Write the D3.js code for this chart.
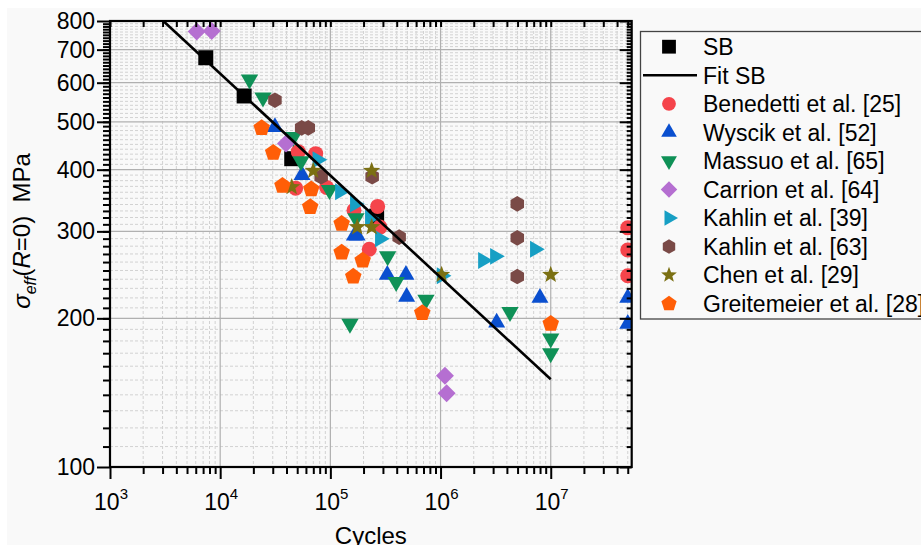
<!DOCTYPE html>
<html>
<head>
<meta charset="utf-8">
<script src="https://cdn.jsdelivr.net/npm/d3@7/dist/d3.min.js"></script>
<style>
  body { margin: 0; background: #fff; }
  text { font-family: Arial, "Liberation Sans", sans-serif; fill: #000; }
</style>
</head>
<body>
<div id="chart"></div>
<script>
const width = 921;
const height = 545;

// axis ticks
const xTicks = [1e3, 1e4, 1e5, 1e6, 1e7];
const xTickExp = ["3", "4", "5", "6", "7"];
const yTicks = [100, 200, 300, 400, 500, 600, 700, 800];

// data: [cycles, stress MPa]
const sbPoints = [[7400, 674], [16500, 564], [44600, 421], [263000, 322]];
const fitSB = [[3045, 800], [1e7, 150.5]];
const benedetti = [[51100, 435], [73600, 431], [48400, 367], [92500, 368], [268700, 337],
  [281800, 306], [225400, 276], [163800, 331], [5e7, 305], [5e7, 275], [5e7, 244]];
const wyscik = [[31400, 488], [55300, 390], [165000, 294], [175000, 294], [328400, 245],
  [485300, 245], [492500, 221], [3.23e6, 196], [7.98e6, 220], [5e7, 220], [5e7, 195]];
const massuo = [[18450, 609], [24460, 560], [46060, 466], [54100, 416], [98100, 364],
  [170700, 319], [331100, 267], [395400, 237], [150600, 195], [737100, 218], [4.27e6, 206],
  [1e7, 182], [1e7, 170]];
const carrion = [[6120, 762], [8375, 764], [39550, 452], [1.096e6, 153], [1.136e6, 141]];
const kahlin39 = [[76400, 419], [122300, 361], [167200, 341], [228800, 319], [281800, 290],
  [1.023e6, 244], [2.43e6, 262], [3.12e6, 267], [7.19e6, 276]];
const kahlin63 = [[31400, 553], [54900, 486], [63000, 486], [82500, 387], [239500, 387],
  [421000, 292], [4.97e6, 341], [4.97e6, 291], [4.97e6, 243]];
const chen = [[44600, 369], [69900, 398], [237100, 398], [175400, 306], [237100, 306],
  [1.023e6, 245], [1e7, 245]];
const greitemeier = [[23800, 486], [30300, 433], [36750, 371], [67100, 365], [65600, 336],
  [126600, 311], [126600, 272], [196400, 262], [161400, 243], [682300, 205], [1e7, 195]];

const legendLabels = ["SB", "Fit SB", "Benedetti et al. [25]", "Wyscik et al. [52]",
  "Massuo et al. [65]", "Carrion et al. [64]", "Kahlin et al. [39]", "Kahlin et al. [63]",
  "Chen et al. [29]", "Greitemeier et al. [28]"];

// marker shapes
function polygon(n, r, rot) {
  const pts = d3.range(n).map(i => {
    const a = rot + 2 * Math.PI * i / n;
    return [r * Math.cos(a), r * Math.sin(a)];
  });
  return "M" + pts.map(p => p.join(",")).join("L") + "Z";
}
function star(ro, ri) {
  const pts = d3.range(10).map(i => {
    const a = -Math.PI / 2 + Math.PI * i / 5;
    const r = i % 2 ? ri : ro;
    return [r * Math.cos(a), r * Math.sin(a)];
  });
  return "M" + pts.map(p => p.join(",")).join("L") + "Z";
}

const shapes = {
  square: "M-7.5,-7.5H7.5V7.5H-7.5Z",
  circle: d3.symbol(d3.symbolCircle, Math.PI * 7.5 * 7.5)(),
  up: polygon(3, 9.8, -Math.PI / 2),
  down: polygon(3, 10, Math.PI / 2),
  diamond: polygon(4, 9, -Math.PI / 2),
  right: polygon(3, 9.8, 0),
  hexagon: polygon(6, 7.8, -Math.PI / 2),
  star: star(9, 3.8),
  pentagon: polygon(5, 8.7, -Math.PI / 2)
};

const series = [
  { name: legendLabels[0], data: sbPoints, color: "#000000", shape: "square" },
  { name: legendLabels[2], data: benedetti, color: "#f5444b", shape: "circle" },
  { name: legendLabels[3], data: wyscik, color: "#0a4fcf", shape: "up" },
  { name: legendLabels[4], data: massuo, color: "#0f9157", shape: "down" },
  { name: legendLabels[5], data: carrion, color: "#b56fd1", shape: "diamond" },
  { name: legendLabels[6], data: kahlin39, color: "#179fc4", shape: "right" },
  { name: legendLabels[7], data: kahlin63, color: "#7a4a47", shape: "hexagon" },
  { name: legendLabels[8], data: chen, color: "#7b7013", shape: "star" },
  { name: legendLabels[9], data: greitemeier, color: "#ff5e07", shape: "pentagon" }
];

const plot = { left: 110, right: 631.7, top: 21, bottom: 467 };

const x = d3.scaleLog().domain([1e3, 5.43e7]).range([plot.left, plot.right]);
const y = d3.scaleLog().domain([100, 800]).range([plot.bottom, plot.top]);

const svg = d3.select("#chart")
  .append("svg")
  .attr("width", width)
  .attr("height", height);

svg.append("rect").attr("x", 7).attr("y", 8).attr("width", width).attr("height", height)
  .attr("fill", "#f9f9f9");

// grid
const xMinor = x.ticks().filter(t => !xTicks.includes(t));
const yMinor = d3.range(110, 800, 10).filter(v => v % 100 !== 0);

const grid = svg.append("g");
grid.selectAll(".xminor").data(xMinor).join("line")
  .attr("x1", d => x(d)).attr("x2", d => x(d))
  .attr("y1", plot.top).attr("y2", plot.bottom)
  .attr("stroke", "#d2d2d2").attr("stroke-dasharray", "3,2");
grid.selectAll(".yminor").data(yMinor).join("line")
  .attr("x1", plot.left).attr("x2", plot.right)
  .attr("y1", d => y(d)).attr("y2", d => y(d))
  .attr("stroke", "#d2d2d2").attr("stroke-dasharray", "3,2");
grid.selectAll(".xmajor").data(xTicks.slice(1)).join("line")
  .attr("x1", d => x(d)).attr("x2", d => x(d))
  .attr("y1", plot.top).attr("y2", plot.bottom)
  .attr("stroke", "#b0b0b0").attr("stroke-width", 1.2);
grid.selectAll(".ymajor").data(yTicks.slice(1, -1)).join("line")
  .attr("x1", plot.left).attr("x2", plot.right)
  .attr("y1", d => y(d)).attr("y2", d => y(d))
  .attr("stroke", "#b0b0b0").attr("stroke-width", 1.2);

// markers
svg.append("clipPath").attr("id", "clip")
  .append("rect")
  .attr("x", plot.left).attr("y", 0)
  .attr("width", plot.right - plot.left).attr("height", plot.bottom);

const marks = svg.append("g").attr("clip-path", "url(#clip)");
series.forEach(s => {
  marks.append("g").selectAll("path").data(s.data).join("path")
    .attr("d", shapes[s.shape])
    .attr("fill", s.color)
    .attr("transform", d => `translate(${x(d[0])},${y(d[1])})`);
});

// fit line
svg.append("path")
  .datum(fitSB)
  .attr("d", d3.line().x(d => x(d[0])).y(d => y(d[1])))
  .attr("fill", "none")
  .attr("stroke", "#000")
  .attr("stroke-width", 2.6);

// axes
function styleAxis(g) {
  g.select(".domain").remove();
  g.selectAll(".tick line").attr("stroke", "#000").attr("stroke-width", 2);
}
const yMinorTicks = d3.range(110, 800, 10);

svg.append("g").attr("transform", `translate(${plot.left},0)`)
  .call(d3.axisLeft(y).tickValues(yMinorTicks).tickSize(7).tickFormat(""))
  .call(styleAxis);
svg.append("g").attr("transform", `translate(${plot.left},0)`)
  .call(d3.axisLeft(y).tickValues(yTicks).tickSize(13).tickPadding(2).tickFormat(d3.format("d")))
  .call(styleAxis)
  .call(g => g.selectAll(".tick text").attr("font-size", 23)
    .attr("font-family", "Arial, 'Liberation Sans', sans-serif").attr("fill", "#000"));
svg.append("g").attr("transform", `translate(${plot.right},0)`)
  .call(d3.axisLeft(y).tickValues(yMinorTicks).tickSize(5).tickFormat(""))
  .call(styleAxis);
svg.append("g").attr("transform", `translate(${plot.right},0)`)
  .call(d3.axisLeft(y).tickValues(yTicks).tickSize(12).tickFormat(""))
  .call(styleAxis);

svg.append("g").attr("transform", `translate(0,${plot.bottom})`)
  .call(d3.axisBottom(x).tickValues(xMinor).tickSize(7).tickFormat(""))
  .call(styleAxis);
svg.append("g").attr("transform", `translate(0,${plot.bottom})`)
  .call(d3.axisBottom(x).tickValues(xTicks).tickSize(12).tickFormat(""))
  .call(styleAxis);
svg.append("g").attr("transform", `translate(0,${plot.top})`)
  .call(d3.axisBottom(x).tickValues(xMinor.concat(xTicks)).tickSize(6).tickFormat(""))
  .call(styleAxis);

// frame
svg.append("rect")
  .attr("x", plot.left).attr("y", plot.top)
  .attr("width", plot.right - plot.left).attr("height", plot.bottom - plot.top)
  .attr("fill", "none").attr("stroke", "#000").attr("stroke-width", 2.2);

// x tick labels 10^n
const xl = svg.append("g").selectAll("text").data(xTicks).join("text")
  .attr("x", d => x(d) + 1)
  .attr("y", 510)
  .attr("text-anchor", "middle")
  .attr("font-size", 23);
xl.append("tspan").text("10");
xl.append("tspan").attr("font-size", 15).attr("dy", -11).text((d, i) => xTickExp[i]);

// axis titles
svg.append("text")
  .attr("x", (plot.left + plot.right) / 2)
  .attr("y", 544)
  .attr("text-anchor", "middle")
  .attr("font-size", 24)
  .text("Cycles");

const yt = svg.append("text")
  .attr("transform", "translate(30,231) rotate(-90)")
  .attr("text-anchor", "middle")
  .attr("font-size", 24)
  .attr("xml:space", "preserve");
yt.append("tspan").attr("font-style", "italic").text("σ");
yt.append("tspan").attr("font-style", "italic").attr("font-size", 16).attr("dy", 6).text("eff");
yt.append("tspan").attr("dy", -6).text("(");
yt.append("tspan").attr("font-style", "italic").text("R");
yt.append("tspan").text("=0)  MPa");

// legend
const legend = svg.append("g");
legend.append("rect")
  .attr("x", 640.5).attr("y", 31.5)
  .attr("width", 300).attr("height", 287.5)
  .attr("fill", "#f9f9f9").attr("stroke", "#444").attr("stroke-width", 1.3);

const rowY = i => 46.7 + i * 28.55;
const legendItems = [series[0], null].concat(series.slice(1));
legendItems.forEach((s, i) => {
  const g = legend.append("g").attr("transform", `translate(0,${rowY(i)})`);
  if (s) {
    g.append("path").attr("d", shapes[s.shape]).attr("fill", s.color)
      .attr("transform", "translate(669,0) scale(0.92)");
  } else {
    g.append("line").attr("x1", 643).attr("x2", 697).attr("y1", 0).attr("y2", 0)
      .attr("stroke", "#000").attr("stroke-width", 2.4);
  }
  g.append("text").attr("x", 703).attr("y", 0).attr("dy", "0.36em")
    .attr("font-size", 23).text(legendLabels[i]);
});
</script>
</body>
</html>
